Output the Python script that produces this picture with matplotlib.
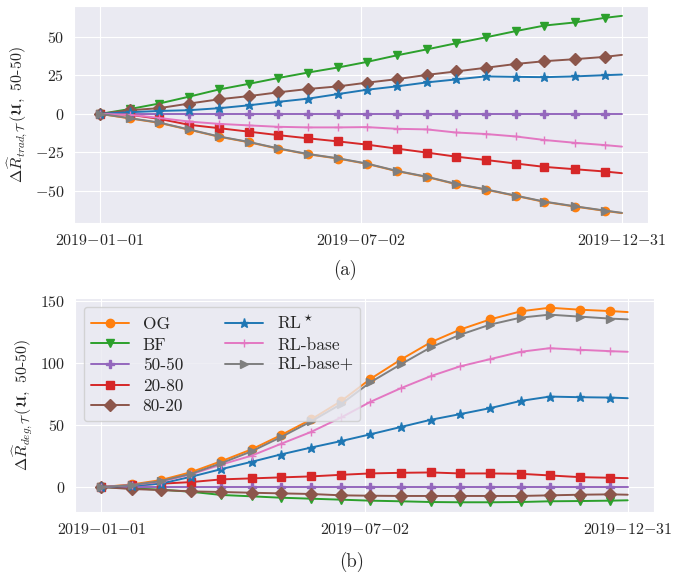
import numpy as np
import pandas as pd
import matplotlib
matplotlib.use("Agg")
import matplotlib.pyplot as plt
from matplotlib.lines import Line2D
import seaborn as sns

sns.set_style("darkgrid")
plt.rcParams["font.family"] = "serif"
plt.rcParams["font.serif"] = ["cmr10", "DejaVu Serif"]
plt.rcParams["mathtext.fontset"] = "cm"
plt.rcParams["axes.formatter.use_mathtext"] = True

# ── data ─────────────────────────────────────────────────────────────────────
day_offsets = [0, 21, 41, 62, 83, 104, 124, 145, 166, 186, 207, 228, 248,
               269, 290, 310, 331, 352, 364]
dates = pd.Timestamp("2019-01-01") + pd.to_timedelta(day_offsets, unit="D")
tick_dates = ["2019-01-01", "2019-07-02", "2019-12-31"]

labels = ["OG", "BF", "50-50", "20-80", "80-20", r"RL$^\star$", "RL-base", "RL-base+"]
colors = ["#ff7f0e", "#2ca02c", "#9467bd", "#d62728", "#8c564b", "#1f77b4", "#e377c2", "#7f7f7f"]
markers = ["o", "v", "P", "s", "D", "*", "+", ">"]

# (a) trading reward difference
trad_og = [0, -3.0, -5.8, -10.3, -14.9, -18.5, -22.6, -26.3, -29.1, -32.5, -37.3,
           -41.1, -45.7, -49.3, -53.4, -57.3, -60.3, -63.1, -64.6]
trad_bf = [0, 3.2, 6.7, 11.2, 15.9, 19.6, 23.3, 26.9, 30.2, 33.8, 38.1, 42.0,
           45.9, 49.8, 53.9, 57.5, 59.5, 62.5, 63.8]
trad_5050 = [0] * 19
trad_2080 = [0, -0.6, -3.2, -7.1, -9.3, -11.6, -13.8, -15.9, -17.9, -20.0, -22.6,
             -25.2, -27.8, -30.0, -32.3, -34.5, -36.0, -37.5, -38.6]
trad_8020 = [0, 2.4, 3.7, 6.7, 9.5, 11.6, 14.0, 16.2, 17.9, 20.3, 22.6, 25.4,
             27.6, 30.0, 32.5, 34.3, 35.6, 37.1, 38.4]
trad_rlstar = [0, 1.1, 1.9, 2.4, 3.7, 5.6, 7.8, 9.9, 12.9, 15.7, 17.9, 20.5,
               22.4, 24.4, 24.1, 23.9, 24.4, 25.2, 25.6]
trad_rlbase = [0, -0.6, -2.6, -5.0, -6.5, -7.5, -8.4, -8.8, -8.8, -8.6, -9.7,
               -10.1, -12.1, -13.1, -14.7, -17.0, -18.8, -20.3, -21.3]
trad_rlbasep = [0, -2.8, -5.6, -10.1, -14.7, -18.3, -22.4, -26.1, -28.9, -32.3, -37.1,
                -40.9, -45.5, -49.1, -53.2, -57.1, -60.1, -62.9, -64.4]

# (b) degradation reward difference
deg_og = [0, 2.1, 5.6, 12.0, 20.9, 30.5, 41.8, 54.6, 69.6, 87.3, 102.9, 117.1,
          127.2, 135.5, 142.0, 144.9, 143.3, 142.2, 141.4]
deg_bf = [0, -1.1, -2.1, -3.8, -6.4, -7.5, -8.6, -9.4, -10.2, -11.0, -11.5, -12.1,
          -12.3, -12.3, -12.1, -11.5, -11.3, -11.0, -10.7]
deg_5050 = [0] * 19
deg_2080 = [0, 1.3, 2.7, 4.0, 6.2, 7.0, 7.8, 8.6, 9.9, 11.0, 11.5, 11.8, 11.0,
            11.0, 10.7, 9.4, 8.0, 7.5, 7.2]
deg_8020 = [0, -1.6, -2.4, -3.5, -4.0, -4.6, -5.1, -5.6, -6.7, -7.0, -7.2, -7.2,
            -7.2, -7.2, -7.2, -6.7, -6.2, -5.9, -6.2]
deg_rlstar = [0, 1.1, 2.7, 8.3, 14.5, 20.4, 26.3, 31.9, 37.2, 42.6, 48.5, 54.4,
              58.9, 63.8, 69.6, 73.1, 72.6, 72.3, 71.8]
deg_rlbase = [0, 1.6, 4.3, 10.2, 18.2, 25.4, 34.8, 44.5, 56.3, 68.8, 79.8, 89.7,
              97.5, 103.4, 109.3, 112.2, 110.9, 109.8, 109.3]
deg_rlbasep = [0, 1.6, 4.8, 10.7, 19.3, 28.9, 40.2, 53.0, 67.2, 84.6, 99.1, 113.0,
               123.0, 131.3, 136.9, 139.3, 137.7, 136.1, 135.5]

trad = [trad_og, trad_bf, trad_5050, trad_2080, trad_8020, trad_rlstar, trad_rlbase, trad_rlbasep]
deg = [deg_og, deg_bf, deg_5050, deg_2080, deg_8020, deg_rlstar, deg_rlbase, deg_rlbasep]

# ── plot ─────────────────────────────────────────────────────────────────────
fig = plt.figure(figsize=(6.94, 5.76), dpi=100)
ax_a = fig.add_axes([74 / 694, 1 - 223 / 576, 574 / 694, 217 / 576])
ax_b = fig.add_axes([75 / 694, 1 - 512 / 576, 579 / 694, 214 / 576])

marker_size = {"o": 6, "v": 6, "P": 5.5, "s": 6, "D": 6, "*": 6.5, "+": 6, ">": 6}

for ax, series in [(ax_a, trad), (ax_b, deg)]:
    for vals, lab, col, mk in zip(series, labels, colors, markers):
        ax.plot(dates, vals, color=col, marker=mk, markersize=marker_size[mk],
                markeredgewidth=1.0, lw=1.4, markevery=slice(0, 18), label=lab)
    ax.set_xticks(pd.to_datetime(tick_dates))
    ax.set_xticklabels([r"$\mathrm{" + t.replace("-", "{-}") + "}$" for t in tick_dates])
    ax.tick_params(labelsize=11.5)

ax_a.set_ylabel(r"$\Delta\widehat{R}_{trad,\mathcal{T}}\,(\mathfrak{U},$ 50-50$)$", fontsize=11.5)
ax_b.set_ylabel(r"$\Delta\widehat{R}_{deg,\mathcal{T}}\,(\mathfrak{U},$ 50-50$)$", fontsize=11.5)
ax_a.set_yticks([-50, -25, 0, 25, 50])
ax_b.set_yticks([0, 50, 100, 150])

# five entries in the first column, three in the second
handles, labs = ax_b.get_legend_handles_labels()
blank = Line2D([], [], linestyle="none", marker="none")
handles = handles + [blank, blank]
labs = labs + ["", ""]
ax_b.legend(handles, labs, loc="upper left", ncol=2, fontsize=12.5,
            handlelength=2.2, columnspacing=2.4, labelspacing=0.3,
            borderaxespad=0.5)

fig.text(0.497, 1 - 270 / 576, "(a)", ha="center", va="center", fontsize=13.5)
fig.text(0.507, 1 - 562 / 576, "(b)", ha="center", va="center", fontsize=13.5)

fig.savefig("out.png", dpi=100)
